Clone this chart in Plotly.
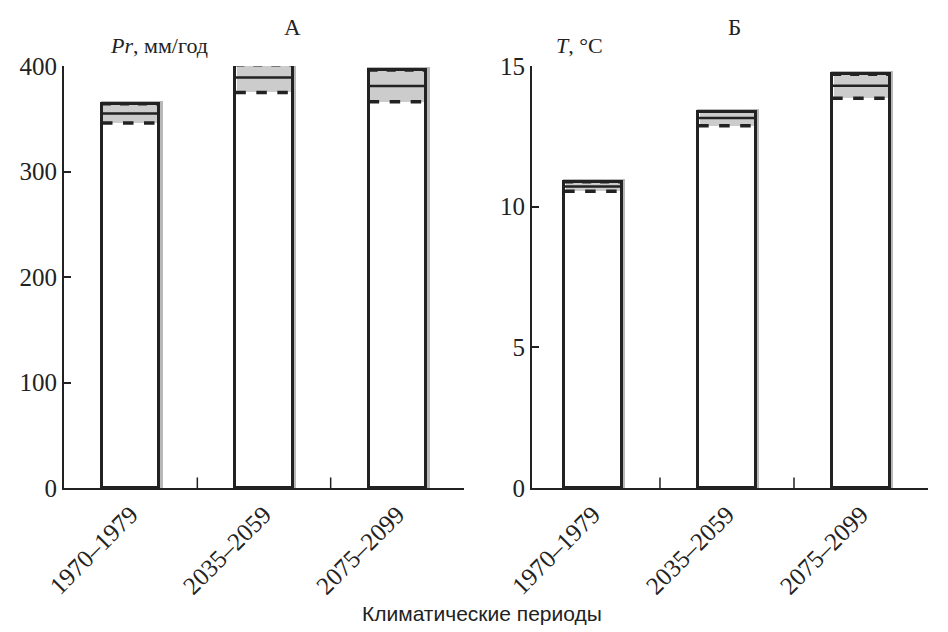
import plotly.graph_objects as go

periods = ["1970–1979", "2035–2059", "2075–2099"]
pr_upper = [364, 401, 396]
pr_mean = [355, 389, 381]
pr_lower = [346, 375, 366]
t_upper = [10.88, 13.38, 14.7]
t_mean = [10.72, 13.15, 14.3]
t_lower = [10.55, 12.88, 13.85]

W = 0.43
FONT = "Liberation Serif"
INK = "#222222"
fig = go.Figure()

def add_panel(upper, mean, lower, xa, ya):
    xs = list(range(len(periods)))
    fig.add_trace(go.Bar(x=xs, y=upper, width=W, xaxis=xa, yaxis=ya,
                         marker=dict(color="white", line=dict(color="#b8b8b8", width=5)),
                         offset=-W / 2 + 0.012, showlegend=False, hoverinfo="skip"))
    fig.add_trace(go.Bar(x=xs, y=upper, width=W, xaxis=xa, yaxis=ya,
                         marker=dict(color="white", line=dict(color=INK, width=3)),
                         offset=-W / 2, showlegend=False))
    fig.add_trace(go.Bar(x=xs, y=[u - l for u, l in zip(upper, lower)], base=lower,
                         width=W - 0.02, xaxis=xa, yaxis=ya,
                         marker=dict(color="#cccccc", line=dict(width=0)),
                         offset=-(W - 0.02) / 2, showlegend=False))
    def seg(vals):
        xx, yy = [], []
        for i, v in enumerate(vals):
            xx += [i - W / 2, i + W / 2, None]
            yy += [v, v, None]
        return xx, yy
    for vals, dash, wd in [(upper, "dash", 3), (lower, "dash", 3.5), (mean, "solid", 2.5)]:
        xx, yy = seg(vals)
        fig.add_trace(go.Scatter(x=xx, y=yy, mode="lines", xaxis=xa, yaxis=ya,
                                 line=dict(color=INK, width=wd, dash=dash),
                                 showlegend=False, hoverinfo="skip"))
    fig.add_trace(go.Bar(x=xs, y=upper, width=W, xaxis=xa, yaxis=ya,
                         marker=dict(color="rgba(0,0,0,0)", line=dict(color=INK, width=3)),
                         offset=-W / 2, showlegend=False, hoverinfo="skip"))

add_panel(pr_upper, pr_mean, pr_lower, "x", "y")
add_panel(t_upper, t_mean, t_lower, "x2", "y2")

xcommon = dict(tickmode="array", tickvals=[0, 1, 2], ticktext=periods, tickangle=-45,
               showline=True, linecolor=INK, linewidth=2,
               ticks="", showgrid=False, zeroline=False,
               tickfont=dict(family=FONT, size=25, color=INK))
ycommon = dict(showline=True, linecolor=INK, linewidth=2, ticks="inside",
               ticklen=7, tickwidth=1.5, tickcolor=INK, showgrid=False, zeroline=False,
               tickfont=dict(family=FONT, size=25, color=INK))

L, R = 56, 20
PW = 948 - L - R

def dom(a, b):
    return [(a - L) / PW, (b - L) / PW]

fig.update_layout(
    width=948, height=632, plot_bgcolor="white", paper_bgcolor="white",
    margin=dict(l=L, r=R, t=58, b=152), barmode="overlay", bargap=0,
    xaxis=dict(domain=dom(L, L + 400), range=[-0.5, 2.5], **xcommon),
    xaxis2=dict(domain=dom(524, 920), range=[-0.455, 2.5], anchor="y2", **xcommon),
    yaxis=dict(range=[0, 400], tickvals=[0, 100, 200, 300, 400], **ycommon),
    yaxis2=dict(range=[0, 15], tickvals=[0, 5, 10, 15], anchor="x2", **ycommon),
    annotations=[
        dict(text="<i>Pr</i>, мм/год", x=(100 - L) / PW, y=1.0, xref="paper", yref="paper",
             xanchor="left", yanchor="bottom", yshift=6, showarrow=False,
             font=dict(family=FONT, size=22, color=INK)),
        dict(text="<i>T</i>, °C", x=(546 - L) / PW, y=1.0, xref="paper", yref="paper",
             xanchor="left", yanchor="bottom", yshift=6, showarrow=False,
             font=dict(family=FONT, size=22, color=INK)),
        dict(text="А", x=(284 - L) / PW, y=1.0, xref="paper", yref="paper",
             xanchor="center", yanchor="bottom", yshift=24, showarrow=False,
             font=dict(family=FONT, size=23, color=INK)),
        dict(text="Б", x=(726 - L) / PW, y=1.0, xref="paper", yref="paper",
             xanchor="center", yanchor="bottom", yshift=24, showarrow=False,
             font=dict(family=FONT, size=23, color=INK)),
        dict(text="Климатические периоды", x=(474 - L) / PW, y=0, xref="paper", yref="paper",
             xanchor="center", yanchor="top", yshift=-112, showarrow=False,
             font=dict(family="Liberation Sans", size=21, color=INK)),
    ],
)

for xa, ya in [("x", "y"), ("x2", "y2")]:
    for b in [0.5, 1.5]:
        fig.add_shape(type="line", xref=xa, yref=ya + " domain",
                      x0=b, x1=b, y0=0, y1=0.025, line=dict(width=1.5, color=INK))

fig.write_html("out.html")
